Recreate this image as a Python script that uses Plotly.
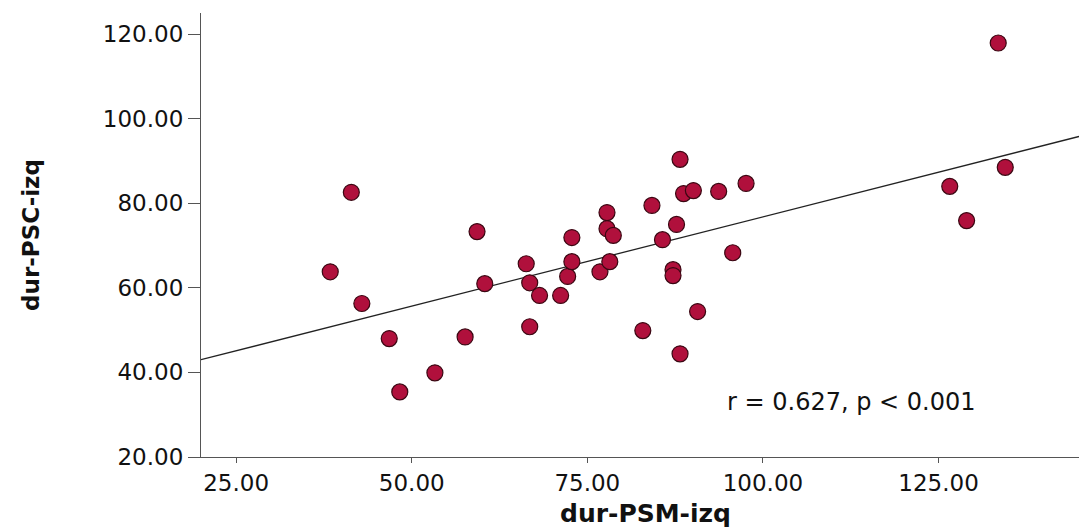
import plotly.graph_objects as go

# Data
psm_izq = [133.5, 134.5, 126.6, 129.0, 38.4, 41.4, 42.9, 46.8, 48.3, 53.3,
           57.6, 59.3, 60.4, 66.3, 66.8, 66.8, 68.2, 71.2, 72.8, 72.2,
           72.8, 76.8, 77.8, 77.8, 78.7, 78.2, 82.9, 84.2, 85.7, 87.2,
           87.2, 87.7, 88.2, 88.2, 88.7, 90.1, 90.7, 93.7, 95.7, 97.6]
psc_izq = [117.9, 88.5, 84.0, 75.9, 63.8, 82.6, 56.3, 48.0, 35.4, 39.9,
           48.4, 73.3, 61.0, 65.7, 61.2, 50.8, 58.2, 58.2, 71.9, 62.7,
           66.2, 63.8, 77.8, 74.0, 72.4, 66.2, 49.9, 79.5, 71.4, 64.3,
           62.9, 75.0, 44.4, 90.4, 82.3, 83.0, 54.4, 82.8, 68.3, 84.7]

# Fit line end points
fit_x = [20.0, 145.0]
fit_y = [43.0, 95.8]

x_ticks = [25, 50, 75, 100, 125]
y_ticks = [20, 40, 60, 80, 100, 120]

fig = go.Figure()
fig.add_trace(go.Scatter(
    x=fit_x, y=fit_y, mode="lines",
    line=dict(color="#222222", width=1.3),
    showlegend=False, hoverinfo="skip"))
fig.add_trace(go.Scatter(
    x=psm_izq, y=psc_izq, mode="markers",
    marker=dict(size=16, color="#b0103c",
                line=dict(color="#3a0712", width=1.2)),
    showlegend=False))

fig.add_annotation(x=112.6, y=33.0, xref="x", yref="y",
                   text="r = 0.627, p < 0.001", showarrow=False,
                   font=dict(family="DejaVu Sans", size=24, color="#111111"))

# x-axis title placed as an annotation for exact positioning
fig.add_annotation(x=0.506, y=-0.128, xref="paper", yref="paper",
                   xanchor="center", yanchor="middle",
                   text="<b>dur-PSM-izq</b>", showarrow=False,
                   font=dict(family="DejaVu Sans", size=25, color="#111111"))

axis_font = dict(family="DejaVu Sans", size=23, color="#111111")

fig.update_layout(
    width=1079, height=531,
    margin=dict(l=201, r=0, t=13, b=74),
    paper_bgcolor="white", plot_bgcolor="white",
    xaxis=dict(range=[20, 145], tickvals=x_ticks, tickformat=".2f",
               showgrid=False, zeroline=False, showline=True,
               linecolor="#555555", linewidth=1.2,
               ticks="outside", ticklen=5, tickcolor="#555555",
               tickfont=axis_font),
    yaxis=dict(range=[20, 125], tickvals=y_ticks, tickformat=".2f",
               showgrid=False, zeroline=False, showline=True,
               linecolor="#555555", linewidth=1.2,
               ticks="outside", ticklen=12, tickcolor="#555555",
               tickfont=axis_font,
               title=dict(text="<b>dur-PSC-izq</b>",
                          font=dict(family="DejaVu Sans", size=23, color="#111111"),
                          standoff=56)),
)

fig.write_html("out.html")
